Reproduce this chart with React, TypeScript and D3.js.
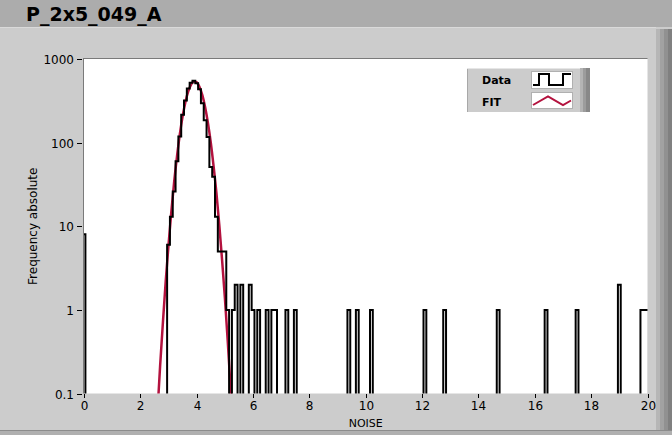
import React from 'react';
import * as d3 from 'd3';

const width = 672;
const height = 435;
const margin = { top: 59, right: 25, bottom: 42, left: 84 };
const red = '#b3123e';
const panel = '#cccccc';

// histogram: bin centres (0.1 wide bins) with non-zero counts
const binWidth = 0.1;
const binCenters = [
  0.0,
  3.0, 3.1, 3.2, 3.3, 3.4, 3.5, 3.6, 3.7, 3.8, 3.9, 4.0, 4.1, 4.2, 4.3, 4.4, 4.5, 4.6, 4.7, 4.8, 4.9, 5.0, 5.1,
  5.3, 5.4, 5.6, 5.9, 6.0, 6.2, 6.5, 6.7, 6.8, 7.2, 7.5,
  9.4, 9.7, 10.2, 12.1, 12.8, 14.7, 16.4, 17.5, 19.0, 19.8, 19.9, 20.0
];
const counts = [
  8,
  6, 13, 26, 60, 118, 215, 320, 445, 520, 548, 512, 435, 295, 185, 117, 51, 39, 13, 5, 5, 5, 1,
  1, 2, 2, 2, 1, 1, 1, 1, 1, 1, 1,
  1, 1, 1, 1, 1, 1, 1, 1, 2, 1, 1, 1
];

// gaussian fit
const fitX = [2.6, 2.7, 2.8, 2.9, 3.0, 3.1, 3.2, 3.3, 3.4, 3.5, 3.6, 3.7, 3.8, 3.9, 4.0, 4.1, 4.2, 4.3, 4.4, 4.5, 4.6, 4.7, 4.8, 4.9, 5.0, 5.1, 5.2, 5.3];
const fitY = [0.054, 0.21, 0.7, 2.2, 6.0, 15, 34, 68, 125, 206, 306, 409, 494, 537, 526, 464, 369, 265, 171, 100, 52, 25, 10.5, 4.0, 1.4, 0.43, 0.12, 0.031];

const xTicks = [0, 2, 4, 6, 8, 10, 12, 14, 16, 18, 20];
const yTicks = [0.1, 1, 10, 100, 1000];
const yTickLabels = ['0.1', '1', '10', '100', '1000'];

const title = 'P_2x5_049_A';
const xLabel = 'NOISE';
const yLabel = 'Frequency absolute';
const legendNames = ['Data', 'FIT'];

export default function App() {
  const x0 = margin.left;
  const x1 = width - margin.right + 0.5;
  const y0 = margin.top;
  const y1 = height - margin.bottom + 0.5;

  const xScale = d3.scaleLinear().domain([0, 20]).range([x0, x1]);
  const yScale = d3.scaleLog().domain([0.1, 1000]).range([y1, y0]);

  // full step series 0..20, empty bins pushed below the plot
  const lookup = new Map(binCenters.map((c, i) => [Math.round(c * 10), counts[i]]));
  const steps: [number, number][] = [];
  for (let k = -1; k <= 201; k++) {
    const v = lookup.get(k) ?? 0.03;
    steps.push([k * binWidth - binWidth / 2, v]);
  }
  const stepLine = d3
    .line<[number, number]>()
    .x(d => xScale(d[0]))
    .y(d => yScale(d[1]))
    .curve(d3.curveStepAfter);

  const fitLine = d3
    .line<number>()
    .x((d, i) => xScale(fitX[i]))
    .y(d => yScale(d))
    .curve(d3.curveMonotoneX);

  const font = '"DejaVu Sans", Verdana, sans-serif';
  const lx = 467;
  const ly = 68;

  return (
    <svg width={width} height={height} style={{ position: 'absolute', left: 0, top: 0 }}>
      <rect x={0} y={0} width={width} height={height} fill={panel} />
      <rect x={0} y={0} width={width} height={27} fill="#acacac" />
      <line x1={0} x2={656} y1={27.5} y2={27.5} stroke="#dadada" />
      <text x={26} y={20.5} fontFamily={font} fontWeight="bold" fontSize={19} fill="#000">
        {title}
      </text>

      {/* right and bottom frame */}
      <rect x={656} y={29} width={4} height={403} fill="#b6b6b6" />
      <rect x={660} y={29} width={4} height={403} fill="#a2a2a2" />
      <rect x={664} y={29} width={4} height={403} fill="#919191" />
      <rect x={668} y={29} width={4} height={403} fill="#808080" />
      <rect x={0} y={430} width={width} height={5} fill="#b0b0b0" />
      <line x1={0} x2={width} y1={430.5} y2={430.5} stroke="#8c8c8c" />

      {/* plot area */}
      <rect x={x0} y={y0} width={x1 - x0} height={y1 - y0} fill="#fff" />
      <line x1={x0 - 0.5} x2={x0 - 0.5} y1={y0 - 1} y2={y1} stroke="#7a7a7a" />
      <line x1={x0 - 1} x2={x1} y1={y0 - 0.5} y2={y0 - 0.5} stroke="#7a7a7a" />

      <defs>
        <clipPath id="plot-clip">
          <rect x={x0} y={y0} width={x1 - x0} height={y1 - y0} />
        </clipPath>
      </defs>

      <g clipPath="url(#plot-clip)">
        <path d={fitLine(fitY) || ''} fill="none" stroke={red} strokeWidth={2.5} />
        <path d={stepLine(steps) || ''} fill="none" stroke="#000" strokeWidth={2} strokeLinejoin="miter" />
      </g>

      {/* y axis */}
      {yTicks.map((t, i) => (
        <g key={t} transform={`translate(0,${Math.round(yScale(t)) + 0.5})`}>
          <line x1={77} x2={82} stroke="#000" />
          <text x={74} y={4} textAnchor="end" fontFamily={font} fontSize={12} fill="#000">
            {yTickLabels[i]}
          </text>
        </g>
      ))}
      <text
        transform={`translate(37,${(y0 + y1) / 2}) rotate(-90)`}
        textAnchor="middle"
        fontFamily={font}
        fontSize={12}
        fill="#000"
      >
        {yLabel}
      </text>

      {/* x axis */}
      {xTicks.map(t => (
        <g key={t} transform={`translate(${Math.round(xScale(t)) + 0.5},0)`}>
          <line y1={394} y2={398} stroke="#000" />
          <text y={410} textAnchor="middle" fontFamily={font} fontSize={12} fill="#000">
            {t}
          </text>
        </g>
      ))}
      <text x={(x0 + x1) / 2} y={427} textAnchor="middle" fontFamily={font} fontSize={11} fill="#000">
        {xLabel}
      </text>

      {/* legend */}
      <g>
        <rect x={lx} y={ly} width={123} height={44} fill={panel} />
        <line x1={lx + 0.5} x2={lx + 0.5} y1={ly} y2={ly + 44} stroke="#a8a8a8" />
        <line x1={lx} x2={lx + 113} y1={ly + 0.5} y2={ly + 0.5} stroke="#e6e6e6" />
        <rect x={lx + 113} y={ly} width={3} height={44} fill="#b4b4b4" />
        <rect x={lx + 116} y={ly} width={3} height={44} fill="#9c9c9c" />
        <rect x={lx + 119} y={ly} width={4} height={44} fill="#888" />
        {legendNames.map((n, i) => (
          <text
            key={n}
            x={lx + 15}
            y={ly + 15.5 + i * 22.5}
            fontFamily={font}
            fontWeight="bold"
            fontSize={11}
            fill="#000"
          >
            {n}
          </text>
        ))}
        <rect x={lx + 64.5} y={ly + 3.5} width={41} height={17} fill="#fff" stroke="#b0b0b0" />
        <rect x={lx + 64.5} y={ly + 24.5} width={41} height={16} fill="#fff" stroke="#b0b0b0" />
        <path
          d={`M${lx + 66},${ly + 17} H${lx + 72} V${ly + 6} H${lx + 82} V${ly + 17} H${lx + 96} V${ly + 6} H${lx + 104}`}
          fill="none"
          stroke="#000"
          strokeWidth={2}
        />
        <path
          d={`M${lx + 66},${ly + 37} L${lx + 81},${ly + 28.5} L${lx + 96},${ly + 37} L${lx + 104},${ly + 32.5}`}
          fill="none"
          stroke={red}
          strokeWidth={2}
        />
      </g>
    </svg>
  );
}
